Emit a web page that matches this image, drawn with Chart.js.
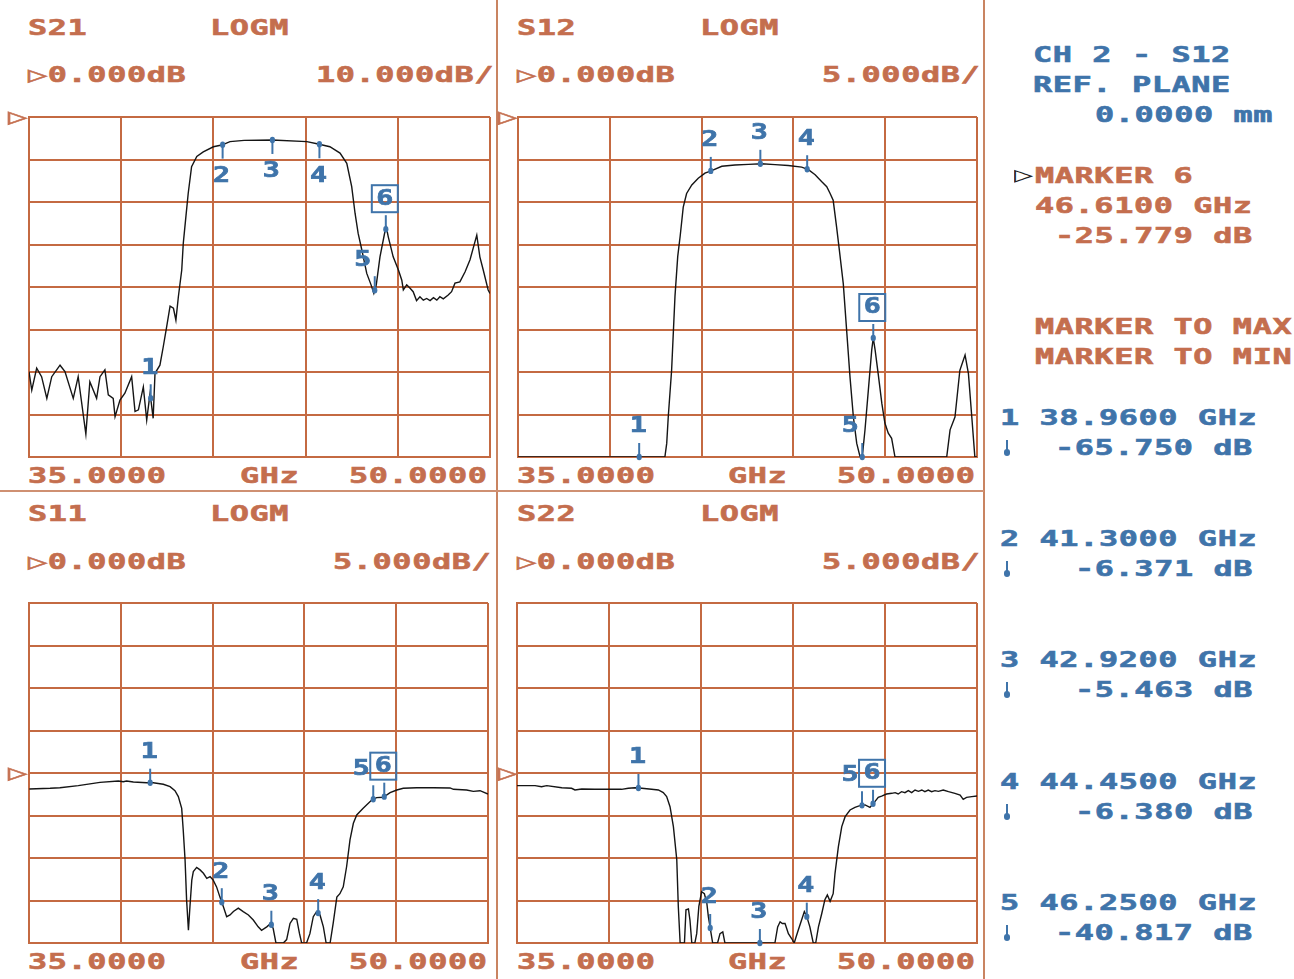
<!DOCTYPE html>
<html>
<head>
<meta charset="utf-8">
<script src="https://cdn.jsdelivr.net/npm/chart.js@4/dist/chart.umd.min.js"></script>
<style>
  body { margin: 0; background: #fff; width: 1294px; height: 979px; overflow: hidden; position: relative;
         font-family: "DejaVu Sans Mono", monospace; }
  .t { position: absolute; white-space: nowrap; font-weight: bold; font-size: 22px; line-height: 22px;
       letter-spacing: 0.4px; transform: scaleX(1.45); transform-origin: 0 50%;
       -webkit-text-stroke: 0.6px currentColor; }
  .br { color: #c46e4e; }
  .bl { color: #3f74aa; }
  .bk { color: #222; font-weight: normal; -webkit-text-stroke: 0; }
  .plot { position: absolute; }
  .vl { position: absolute; width: 2px; background: #c98461; }
  .hl { position: absolute; height: 2px; background: #cf9072; }
  .tick { position: absolute; width: 2px; height: 12px; background: #3f74aa; }
  .tick::after { content: ''; position: absolute; left: -2px; top: 9px; width: 6px; height: 7px; border-radius: 3px; background: #3f74aa; }
</style>
</head>
<body>
<div class="vl" style="left:496px;top:0;height:979px"></div>
<div class="vl" style="left:983px;top:0;height:979px"></div>
<div class="hl" style="left:0;top:490px;width:984px"></div>

<div class="plot" style="left:25px;top:113px;width:469px;height:348px"><canvas id="c21"></canvas></div>
<div class="plot" style="left:514px;top:113px;width:467px;height:348px"><canvas id="c12"></canvas></div>
<div class="plot" style="left:25px;top:599px;width:467px;height:348px"><canvas id="c11"></canvas></div>
<div class="plot" style="left:513px;top:599px;width:468px;height:348px"><canvas id="c22"></canvas></div>

<script>
const GRID = '#c46a42';
const BLUE = '#3f74aa';
const PAD = 4;

// marker frequencies from the readout (GHz)
const markerFreq = [38.96, 41.30, 42.92, 44.45, 46.25, 46.61];
const markerNames = ['1', '2', '3', '4', '5', '6'];

// S21, 10 dB/div
const s21Freq = [35.00, 35.09, 35.25, 35.41, 35.58, 35.74, 36.01, 36.17, 36.44, 36.60, 36.85, 36.98, 37.20, 37.31,
  37.47, 37.58, 37.74, 37.80, 37.96, 38.12, 38.34, 38.45, 38.56, 38.72, 38.83, 38.94, 39.04, 39.10, 39.26, 39.37,
  39.48, 39.59, 39.70, 39.78, 39.86, 39.97, 40.02, 40.05, 40.11, 40.18, 40.29, 40.46, 40.67, 41.00, 41.27, 41.54,
  42.00, 42.91, 44.04, 44.41, 44.79, 45.12, 45.34, 45.50, 45.61, 45.71, 45.83, 45.99, 46.13, 46.22, 46.30, 46.42,
  46.58, 46.63, 46.69, 46.85, 47.02, 47.13, 47.18, 47.29, 47.40, 47.50, 47.61, 47.72, 47.83, 47.94, 48.05, 48.16,
  48.27, 48.37, 48.48, 48.64, 48.75, 48.86, 49.02, 49.19, 49.35, 49.57, 49.67, 49.78, 49.94, 50.00];
const s21Db = [-59.9, -64.3, -59.1, -61.1, -66.2, -61.1, -58.4, -59.9, -66.2, -61.1, -74.6, -62.3, -66.2, -61.1,
  -59.5, -65.4, -66.2, -70.5, -66.6, -65.0, -61.1, -69.3, -68.9, -63.5, -71.3, -65.0, -70.9, -60.3, -58.4, -54.0,
  -49.3, -44.5, -45.0, -47.8, -42.3, -36.0, -29.7, -27.5, -23.1, -18.0, -11.7, -9.3, -8.2, -7.0, -6.6, -5.8,
  -5.5, -5.4, -5.8, -6.35, -7.0, -8.5, -10.9, -16.4, -22.7, -27.4, -31.3, -36.8, -39.5, -41.5, -39.5, -32.9,
  -27.0, -26.0, -28.2, -32.9, -36.0, -38.4, -40.7, -39.5, -40.3, -41.1, -43.2, -42.3, -43.1, -42.7, -43.2, -42.5,
  -43.1, -42.3, -42.8, -41.9, -41.1, -39.1, -38.8, -36.4, -33.6, -27.8, -32.9, -36.0, -40.7, -41.5];

// S12, 5 dB/div
const s12Freq = [35.00, 39.80, 39.86, 39.91, 40.02, 40.13, 40.22, 40.30, 40.40, 40.51, 40.68, 40.89, 41.11, 41.33,
  41.66, 42.09, 42.53, 42.96, 43.40, 43.83, 44.27, 44.49, 44.71, 44.92, 45.09, 45.20, 45.30, 45.41, 45.50, 45.63,
  45.74, 45.85, 45.96, 46.07, 46.18, 46.25, 46.34, 46.45, 46.56, 46.61, 46.67, 46.77, 46.89, 46.99, 47.10, 47.21,
  47.32, 49.01, 49.12, 49.28, 49.44, 49.61, 49.72, 49.83, 49.93, 50.00];
const s12Db = [-40, -40, -38.4, -35.3, -29.8, -21.1, -16.4, -14.0, -10.6, -9.0, -8.0, -7.2, -6.6, -6.3,
  -5.8, -5.65, -5.57, -5.5, -5.6, -5.7, -5.9, -6.2, -6.8, -7.6, -8.2, -9.0, -9.8, -12.9, -15.6, -19.6,
  -25.1, -30.6, -35.3, -38.4, -40, -40, -36.8, -32.1, -27.4, -26.0, -27.4, -30.2, -33.7, -36.0, -37.2, -37.8,
  -40, -40, -36.8, -35.3, -29.8, -28.0, -30.2, -35.3, -40, -40];

// S11, 5 dB/div, reference at centre
const s11Freq = [35.01, 35.69, 36.01, 36.61, 37.32, 37.92, 38.08, 38.19, 38.41, 38.85, 39.06, 39.39, 39.61, 39.77,
  39.88, 39.99, 40.04, 40.10, 40.15, 40.21, 40.26, 40.32, 40.37, 40.48, 40.59, 40.70, 40.81, 40.92, 41.02, 41.13,
  41.24, 41.35, 41.46, 41.57, 41.68, 41.84, 42.00, 42.17, 42.33, 42.49, 42.60, 42.77, 42.90, 42.98, 43.07, 43.31,
  43.42, 43.53, 43.64, 43.75, 43.84, 43.91, 44.07, 44.18, 44.29, 44.40, 44.51, 44.62, 44.71, 44.84, 44.94, 45.06,
  45.16, 45.27, 45.38, 45.49, 45.60, 45.71, 45.92, 46.20, 46.36, 46.58, 46.80, 47.02, 47.23, 47.67, 48.21, 48.76,
  48.87, 49.30, 49.52, 49.74, 50.00];
const s11Db = [-1.88, -1.80, -1.73, -1.49, -1.10, -0.94, -1.02, -0.94, -1.06, -1.14, -1.14, -1.33, -1.61, -2.08,
  -2.78, -4.16, -6.71, -10.2, -14.9, -18.5, -15.7, -12.6, -11.6, -11.1, -11.4, -11.8, -12.4, -12.2, -12.6, -13.4,
  -14.6, -15.7, -16.9, -16.7, -16.3, -15.9, -16.3, -16.7, -17.3, -18.1, -18.5, -18.1, -17.7, -18.3, -20, -20,
  -19.6, -17.7, -17.1, -17.2, -18.9, -20, -20, -18.9, -16.9, -16.3, -16.7, -18.1, -20, -20, -17.7, -14.6,
  -14.2, -13.4, -11.0, -7.88, -5.92, -4.94, -4.16, -3.18, -2.90, -2.86, -2.31, -2.0, -1.80, -1.73, -1.73, -1.76,
  -1.92, -2.0, -2.16, -2.08, -2.47];

// S22, 5 dB/div, reference at centre
const s22Freq = [35.00, 35.59, 35.80, 35.97, 36.46, 36.78, 36.89, 37.11, 37.54, 38.41, 38.63, 38.85, 39.07, 39.39,
  39.61, 39.77, 39.88, 39.99, 40.10, 40.21, 40.26, 40.32, 40.46, 40.51, 40.59, 40.64, 40.70, 40.80, 40.86, 40.93,
  41.02, 41.11, 41.19, 41.24, 41.33, 41.38, 41.54, 41.62, 41.71, 41.78, 43.41, 43.50, 43.58, 43.65, 43.74, 43.85,
  43.96, 44.04, 44.10, 44.17, 44.28, 44.37, 44.45, 44.55, 44.66, 44.74, 44.83, 44.94, 45.04, 45.12, 45.21, 45.31,
  45.37, 45.48, 45.59, 45.70, 45.86, 46.02, 46.18, 46.35, 46.51, 46.67, 46.78, 46.89, 47.05, 47.22, 47.33, 47.43,
  47.54, 47.65, 47.76, 47.87, 47.98, 48.09, 48.20, 48.30, 48.41, 48.52, 48.63, 48.74, 48.90, 49.07, 49.28, 49.45,
  49.55, 49.66, 49.83, 50.00];
const s22Db = [-1.49, -1.49, -1.61, -1.49, -1.73, -1.80, -2.0, -1.88, -1.92, -1.92, -1.80, -1.73, -1.80, -1.92,
  -2.0, -2.31, -2.78, -3.96, -6.31, -10.2, -15.7, -20, -20, -16.1, -16.0, -17.3, -20, -20, -18.9, -15.7,
  -13.96, -14.2, -15.3, -16.9, -18.9, -20, -20, -18.9, -18.7, -20, -20, -18.1, -17.5, -17.7, -17.7, -18.9,
  -19.5, -20, -19.3, -18.5, -17.3, -16.3, -16.9, -18.1, -20, -20, -18.1, -16.5, -14.9, -14.35, -15.1, -14.2,
  -11.8, -8.67, -6.31, -5.14, -4.35, -4.04, -3.84, -3.76, -4.04, -3.37, -2.86, -2.71, -2.47, -2.39, -2.31, -2.47,
  -2.2, -2.31, -2.08, -2.31, -2.0, -2.16, -2.0, -2.2, -2.0, -2.2, -2.08, -2.16, -2.0, -2.2, -2.39, -2.59,
  -3.10, -2.86, -2.78, -2.71];

// marker label side: -1 label above the trace, 1 below
const s21Dirs = [-1, 1, 1, 1, -1, -1];
const upDirs = [-1, -1, -1, -1, -1, -1];

function interp(pts, f) {
  for (let i = 1; i < pts.length; i++) {
    if (pts[i].x >= f) {
      const a = pts[i - 1], b = pts[i];
      return a.y + (b.y - a.y) * (f - a.x) / (b.x - a.x);
    }
  }
  return pts[pts.length - 1].y;
}

const markerPlugin = {
  id: 'vnaMarkers',
  afterDraw(chart, args, opts) {
    const { ctx, scales: { x, y } } = chart;
    const pts = chart.data.datasets[0].data;
    ctx.save();
    ctx.strokeStyle = BLUE;
    ctx.fillStyle = BLUE;
    ctx.lineWidth = 2;
    ctx.font = 'bold 21px "DejaVu Sans Mono"';
    ctx.textAlign = 'center';
    ctx.textBaseline = 'middle';
    markerFreq.forEach((f, i) => {
      const v = Math.max(y.min, Math.min(y.max, interp(pts, f)));
      const px = x.getPixelForValue(f), py = y.getPixelForValue(v);
      const d = opts.dirs[i];
      ctx.beginPath();
      ctx.moveTo(px, py);
      ctx.lineTo(px, py + d * 14);
      ctx.stroke();
      ctx.beginPath();
      ctx.ellipse(px, py, 2.6, 3.2, 0, 0, Math.PI * 2);
      ctx.fill();
      const lx = px + (i === 4 ? -12 : -1), ly = py + d * 31;
      ctx.save();
      ctx.translate(lx, ly);
      ctx.scale(1.35, 1);
      ctx.lineWidth = 0.7;
      ctx.fillText(markerNames[i], 0, 1);
      ctx.strokeText(markerNames[i], 0, 1);
      ctx.restore();
      if (i === 5) ctx.strokeRect(lx - 13, ly - 13, 26, 27);
    });
    ctx.restore();
  }
};

function makeChart(id, freq, db, yMin, yMax, yStep, dirs) {
  const pts = freq.map((f, i) => ({ x: f, y: db[i] }));
  const axis = (extra) => Object.assign({
    ticks: { display: false },
    grid: { color: GRID, lineWidth: 2, drawTicks: false },
    border: { color: GRID, width: 2 }
  }, extra);
  return new Chart(document.getElementById(id), {
    type: 'line',
    data: { datasets: [{ data: pts, borderColor: '#151515', borderWidth: 1.4, pointRadius: 0, tension: 0 }] },
    options: {
      animation: false,
      responsive: true,
      maintainAspectRatio: false,
      layout: { padding: PAD },
      plugins: { legend: { display: false }, tooltip: { enabled: false }, vnaMarkers: { dirs } },
      scales: {
        x: axis({ type: 'linear', min: 35, max: 50, ticks: { display: false, stepSize: 3 } }),
        y: axis({ min: yMin, max: yMax, ticks: { display: false, stepSize: yStep } })
      }
    },
    plugins: [markerPlugin]
  });
}

makeChart('c21', s21Freq, s21Db, -80, 0, 10, s21Dirs);
makeChart('c12', s12Freq, s12Db, -40, 0, 5, upDirs);
makeChart('c11', s11Freq, s11Db, -20, 20, 5, upDirs);
makeChart('c22', s22Freq, s22Db, -20, 20, 5, upDirs);

// instrument annotation text: [text, left, centre y, class]
const texts = [
  ['S21', 28, 28, 'br'], ['LOGM', 210, 28, 'br'], ['▷0.000dB', 28, 75, 'br'], ['10.000dB/', 316, 75, 'br'],
  ['35.0000', 28, 476, 'br'], ['GHz', 240, 476, 'br'], ['50.0000', 349, 476, 'br'],
  ['S12', 517, 28, 'br'], ['LOGM', 700, 28, 'br'], ['▷0.000dB', 517, 75, 'br'], ['5.000dB/', 822, 75, 'br'],
  ['35.0000', 517, 476, 'br'], ['GHz', 728, 476, 'br'], ['50.0000', 837, 476, 'br'],
  ['S11', 28, 514, 'br'], ['LOGM', 210, 514, 'br'], ['▷0.000dB', 28, 562, 'br'], ['5.000dB/', 333, 562, 'br'],
  ['35.0000', 28, 962, 'br'], ['GHz', 240, 962, 'br'], ['50.0000', 349, 962, 'br'],
  ['S22', 517, 514, 'br'], ['LOGM', 700, 514, 'br'], ['▷0.000dB', 517, 562, 'br'], ['5.000dB/', 822, 562, 'br'],
  ['35.0000', 517, 962, 'br'], ['GHz', 728, 962, 'br'], ['50.0000', 837, 962, 'br'],
  ['▷', 8, 117, 'br'], ['▷', 498, 117, 'br'], ['▷', 8, 773, 'br'], ['▷', 498, 773, 'br'],
  ['CH 2 - S12', 1033, 55, 'bl'], ['REF. PLANE', 1033, 85, 'bl'], ['0.0000 mm', 1095, 115, 'bl'],
  ['▷', 1014, 175, 'bk'], ['MARKER 6', 1035, 176, 'br'], ['46.6100 GHz', 1035, 206, 'br'], ['-25.779 dB', 1055, 236, 'br'],
  ['MARKER TO MAX', 1035, 327, 'br'], ['MARKER TO MIN', 1035, 357, 'br'],
  ['1 38.9600 GHz', 1000, 418, 'bl'], ['-65.750 dB', 1055, 448, 'bl'],
  ['2 41.3000 GHz', 1000, 539, 'bl'], ['-6.371 dB', 1075, 569, 'bl'],
  ['3 42.9200 GHz', 1000, 660, 'bl'], ['-5.463 dB', 1075, 690, 'bl'],
  ['4 44.4500 GHz', 1000, 782, 'bl'], ['-6.380 dB', 1075, 812, 'bl'],
  ['5 46.2500 GHz', 1000, 903, 'bl'], ['-40.817 dB', 1055, 933, 'bl']
];
for (const [s, x, y, cls] of texts) {
  const el = document.createElement('div');
  el.className = 't ' + cls;
  el.textContent = s;
  el.style.left = x + 'px';
  el.style.top = (y - 11) + 'px';
  document.body.appendChild(el);
}
for (const y of [440, 561, 682, 804, 925]) {
  const el = document.createElement('div');
  el.className = 'tick';
  el.style.left = '1006px';
  el.style.top = y + 'px';
  document.body.appendChild(el);
}
</script>
</body>
</html>
